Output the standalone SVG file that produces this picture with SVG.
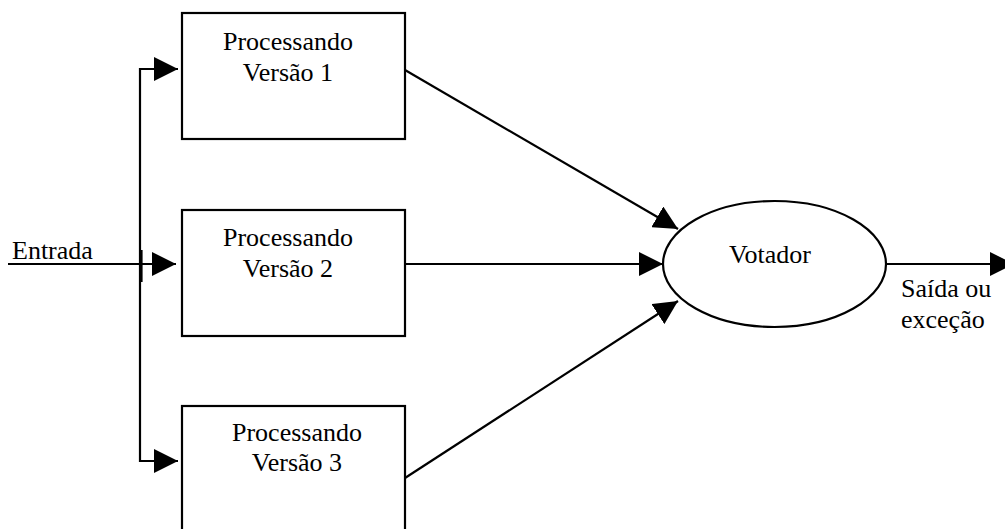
<svg xmlns="http://www.w3.org/2000/svg" width="1005" height="529" viewBox="0 0 1005 529">
  <defs>
    <marker id="arrow" markerUnits="userSpaceOnUse" markerWidth="24" markerHeight="24" viewBox="0 0 22 22" refX="22" refY="11" orient="auto">
      <path d="M0,0 L22,11 L0,22 Z" fill="#000"/>
    </marker>
    <style>
      .box { fill: #fff; stroke: #000; stroke-width: 2.2; }
      .wire { fill: none; stroke: #000; stroke-width: 2.2; }
      .lbl { font-family: "Liberation Serif", "Times New Roman", serif; font-size: 26px; fill: #000; }
      .mid { text-anchor: middle; }
    </style>
  </defs>
  <rect width="1005" height="529" fill="#fff"/>

  <g id="connectors">
    <path class="wire" d="M8,264 H176" marker-end="url(#arrow)"/>
    <path class="wire" d="M140,264 V69 H178" marker-end="url(#arrow)"/>
    <path class="wire" d="M140,264 V461 H178" marker-end="url(#arrow)"/>
    <path class="wire" d="M141.5,250 V282"/>
    <path class="wire" d="M405,70 L678,229" marker-end="url(#arrow)"/>
    <path class="wire" d="M405,264 H663" marker-end="url(#arrow)"/>
    <path class="wire" d="M405,478 L678,301" marker-end="url(#arrow)"/>
    <path class="wire" d="M886,264 H1014" marker-end="url(#arrow)"/>
  </g>

  <g id="entrada">
    <text class="lbl" x="12" y="259">Entrada</text>
  </g>

  <g id="versao1">
    <rect class="box" x="182" y="13" width="223" height="126"/>
    <text class="lbl mid" x="288" y="50">Processando</text>
    <text class="lbl mid" x="288" y="81">Versão 1</text>
  </g>

  <g id="versao2">
    <rect class="box" x="182" y="210" width="223" height="126"/>
    <text class="lbl mid" x="288" y="246">Processando</text>
    <text class="lbl mid" x="288" y="277">Versão 2</text>
  </g>

  <g id="versao3">
    <rect class="box" x="182" y="406" width="223" height="128"/>
    <text class="lbl mid" x="297" y="441">Processando</text>
    <text class="lbl mid" x="297" y="471">Versão 3</text>
  </g>

  <g id="votador">
    <ellipse class="box" cx="774.5" cy="264" rx="111.5" ry="63"/>
    <text class="lbl mid" x="770" y="263">Votador</text>
  </g>

  <g id="saida">
    <text class="lbl" x="901" y="297">Saída ou</text>
    <text class="lbl" x="901" y="328">exceção</text>
  </g>
</svg>
